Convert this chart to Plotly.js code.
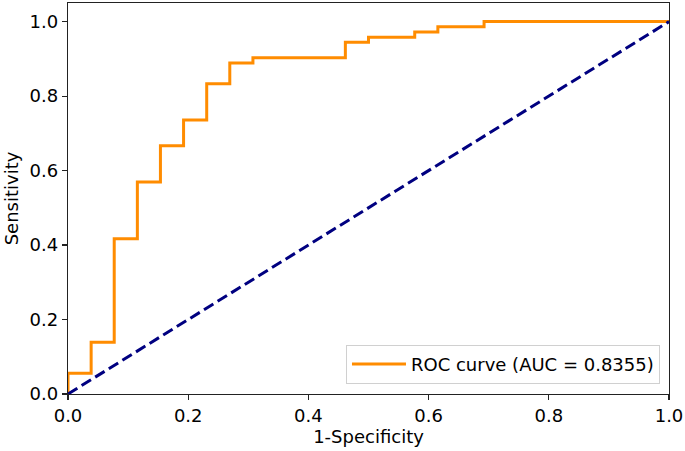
<!DOCTYPE html>
<html>
<head>
<meta charset="utf-8">
<script src="https://cdn.plot.ly/plotly-3.0.1.min.js"></script>
<style>html,body{margin:0;padding:0;background:#fff;}#chart{width:685px;height:451px;}</style>
</head>
<body>
<div id="chart"></div>
<script>
// ROC curve step points (false positive rate, true positive rate)
const fpr = [0, 0, 0.0385, 0.0385, 0.0769, 0.0769, 0.1154, 0.1154, 0.1538, 0.1538, 0.1923, 0.1923, 0.2308, 0.2308, 0.2692, 0.2692, 0.3077, 0.3077, 0.4615, 0.4615, 0.5, 0.5, 0.5769, 0.5769, 0.6154, 0.6154, 0.6923, 0.6923, 1.0];
const tpr = [0, 0.0556, 0.0556, 0.1389, 0.1389, 0.4167, 0.4167, 0.5694, 0.5694, 0.6667, 0.6667, 0.7361, 0.7361, 0.8333, 0.8333, 0.8889, 0.8889, 0.9028, 0.9028, 0.9444, 0.9444, 0.9583, 0.9583, 0.9722, 0.9722, 0.9861, 0.9861, 1.0, 1.0];
const chanceX = [0, 1];
const chanceY = [0, 1];
const aucLabel = 'ROC curve (AUC = 0.8355)';
const xTicks = [0, 0.2, 0.4, 0.6, 0.8, 1.0];
const xTickText = ['0.0', '0.2', '0.4', '0.6', '0.8', '1.0'];
const yTicks = [0, 0.2, 0.4, 0.6, 0.8, 1.0];
const yTickText = ['0.0', '0.2', '0.4', '0.6', '0.8', '1.0'];

const font = {family: 'DejaVu Sans, sans-serif', size: 18, color: '#000'};

const traces = [
  {x: fpr, y: tpr, mode: 'lines', name: aucLabel,
   line: {color: '#ff8c00', width: 3}, showlegend: true},
  {x: chanceX, y: chanceY, mode: 'lines', showlegend: false,
   line: {color: '#000080', width: 3, dash: '11px,5px'}}
];

const axisCommon = {
  showgrid: false, zeroline: false, showline: true, mirror: true,
  linecolor: '#222', linewidth: 1.2, ticks: 'outside', ticklen: 5,
  tickwidth: 1.2, tickcolor: '#222', tickfont: font
};

const layout = {
  width: 685, height: 451,
  margin: {l: 68, r: 16, t: 3, b: 57},
  paper_bgcolor: '#fff', plot_bgcolor: '#fff',
  font: font,
  xaxis: Object.assign({}, axisCommon, {
    range: [0, 1], tickvals: xTicks, ticktext: xTickText,
    title: {text: '1-Specificity', font: font, standoff: 5}
  }),
  yaxis: Object.assign({}, axisCommon, {
    range: [0, 1.05], tickvals: yTicks, ticktext: yTickText,
    title: {text: 'Sensitivity', font: font, standoff: 6}
  }),
  legend: {
    x: 0.985, xanchor: 'right', y: 0.026, yanchor: 'bottom',
    bgcolor: 'rgba(255,255,255,0.8)', bordercolor: '#d0d0d0', borderwidth: 1,
    font: font, itemwidth: 54
  }
};

Plotly.newPlot('chart', traces, layout, {displayModeBar: false, staticPlot: true});
</script>
</body>
</html>
